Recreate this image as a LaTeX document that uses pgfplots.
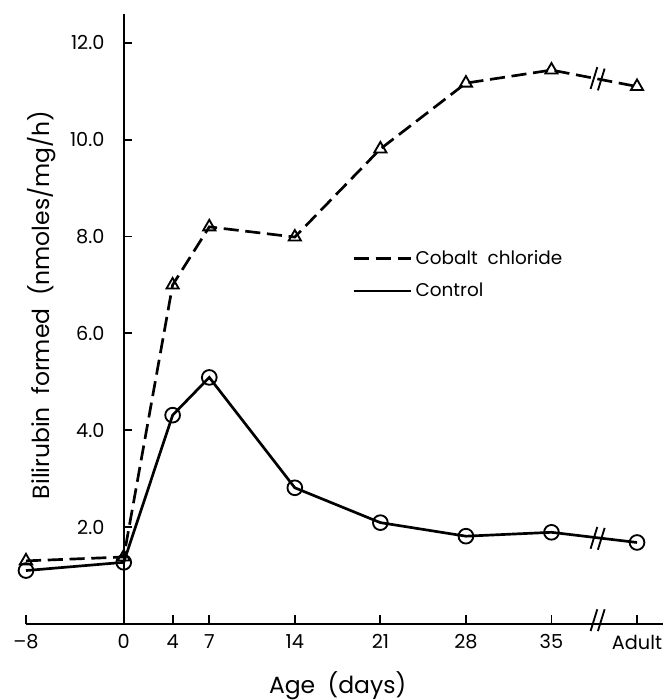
\documentclass[border=0pt]{standalone}
\usepackage{pgfplots}
\pgfplotsset{compat=1.18}
\usepackage{fontspec}
\setmainfont{Poppins}
\begin{document}
\begin{tikzpicture}
\begin{axis}[
  scale only axis,
  width=380pt, height=364pt,
  xmin=-8, xmax=44.1, ymin=0, ymax=12.6,
  axis x line*=bottom, axis y line*=middle,
  hide obscured x ticks=false,
  xtick={-8,0,4,7,14,21,28,35,42},
  xticklabels={--8,0,4,7,14,21,28,35,Adult},
  ytick={2,4,6,8,10,12},
  yticklabel style={/pgf/number format/fixed,/pgf/number format/fixed zerofill,/pgf/number format/precision=1},
  /pgf/number format/assume math mode=true,
  tick align=inside,
  major tick length=5pt,
  tick style={line width=1.1pt,black},
  axis line style={line width=1.1pt},
  ticklabel style={font=\fontsize{11.5}{13}\selectfont},
  xticklabel style={yshift=-3pt},
  yticklabel style={xshift=-8pt},
  legend image code/.code={\draw[#1,mark=none] (0pt,0pt) -- (29pt,0pt);\path (0pt,0pt) -- (34pt,0pt);},
  legend style={at={(axis cs:18.7,7.21)},anchor=west,draw=none,fill=none,inner sep=0pt,
    font=\fontsize{11}{14}\selectfont,row sep=5.5pt},
  legend cell align=left,
  clip=false,
]
\addplot[black,line width=1.6pt,dash pattern=on 9pt off 4pt,mark=triangle,mark size=4.2pt,
  mark options={solid,fill=white,line width=1.1pt}]
  coordinates {(-8,1.3) (0,1.38) (4,7.0) (7,8.2) (14,7.99) (21,9.81) (28,11.17) (35,11.44) (42,11.1)};
\addlegendentry{Cobalt\ \ chloride}
\addplot[black,line width=1.6pt,mark=o,mark size=4.4pt,
  mark options={solid,fill=white,line width=1.1pt}]
  coordinates {(-8,1.1) (0,1.27) (4,4.31) (7,5.09) (14,2.81) (21,2.09) (28,1.81) (35,1.89) (42,1.68)};
\addlegendentry{Control}
% axis break marks
\draw[line width=1.1pt] (axis cs:38.2,-0.15) -- (axis cs:38.75,0.3);
\draw[line width=1.1pt] (axis cs:38.8,-0.15) -- (axis cs:39.35,0.3);
\draw[line width=1.1pt] (axis cs:38.2,11.05) -- (axis cs:38.75,11.5);
\draw[line width=1.1pt] (axis cs:38.8,11.02) -- (axis cs:39.35,11.47);
\draw[line width=1.1pt] (axis cs:38.2,1.55) -- (axis cs:38.75,2.0);
\draw[line width=1.1pt] (axis cs:38.8,1.53) -- (axis cs:39.35,1.98);
\node[rotate=90,font=\fontsize{14}{16}\selectfont] at (axis cs:-6.75,6.59) {Bilirubin\ \ formed\ \ (nmoles/mg/h)};
\node[font=\fontsize{14}{16}\selectfont,anchor=base,inner sep=0pt] at ([yshift=-41.7pt]axis cs:17.5,0) {Age\ \ (days)};
\path ([xshift=-15.5pt]rel axis cs:0,0) -- ([yshift=8.3pt]rel axis cs:0,1);
\path ([yshift=-44pt]rel axis cs:0,0);
\end{axis}
\end{tikzpicture}
\end{document}
